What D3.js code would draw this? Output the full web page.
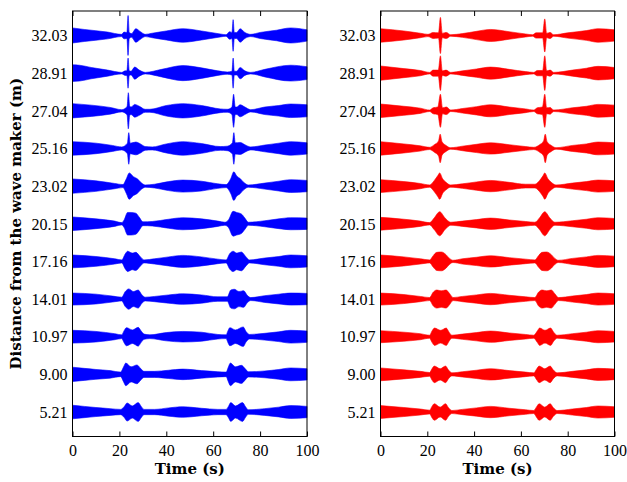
<!DOCTYPE html>
<html>
<head>
<meta charset="utf-8">
<script src="https://cdnjs.cloudflare.com/ajax/libs/d3/7.8.5/d3.min.js"></script>
<style>
body { margin: 0; background: #fff; }
</style>
</head>
<body>
<div id="chart"></div>
<script>
// gauge positions, bottom to top
var stations = ["5.21", "9.00", "10.97", "14.01", "17.16", "20.15", "23.02", "25.16", "27.04", "28.91", "32.03"];
var timeTicks = [0, 20, 40, 60, 80, 100];

// envelope of the measured signal: [time (s), half amplitude (trace spacing units)]
var measured = [
  [[0,.18],[5,.15],[10,.12],[16,.09],[20.5,.07],[22,.14],[23.3,.24],[25.5,.16],[28,.25],[29.3,.15],[30.5,.07],[35,.07],[41,.11],[47,.14],[55,.1],[62,.07],[65.5,.07],[66.5,.15],[67.5,.25],[69.5,.16],[72.5,.25],[73.8,.14],[75,.06],[82,.09],[88,.13],[93,.17],[100,.15]],
  [[0,.19],[5,.16],[10,.13],[16,.1],[20.5,.06],[21.8,.2],[22.7,.3],[25,.2],[27.5,.25],[29,.16],[30.5,.08],[35,.08],[41,.11],[47,.14],[55,.1],[62,.07],[65.5,.06],[66.5,.2],[67.3,.3],[69.5,.2],[72,.24],[73.5,.16],[75,.07],[82,.09],[88,.13],[93,.17],[100,.15]],
  [[0,.17],[10,.14],[18,.08],[21,.05],[22,.16],[23,.24],[25.6,.18],[28,.25],[29.3,.15],[30.5,.07],[33,.05],[40,.11],[47,.14],[55,.12],[62,.06],[65.5,.05],[66.3,.16],[67.1,.24],[69.5,.18],[72.8,.26],[74,.14],[75.5,.06],[82,.09],[88,.13],[93,.17],[100,.15]],
  [[0,.16],[10,.13],[17,.08],[21,.05],[22.5,.2],[24,.27],[26,.2],[28,.24],[29.5,.12],[31,.05],[35,.07],[41,.11],[47,.14],[55,.11],[62,.06],[66,.06],[67.5,.24],[69,.26],[71,.2],[73,.22],[74.5,.1],[76,.04],[82,.09],[88,.13],[93,.16],[100,.15]],
  [[0,.17],[10,.13],[18,.07],[21,.04],[22.5,.2],[23.5,.27],[25.5,.22],[27,.24],[29,.12],[30.5,.04],[35,.07],[41,.12],[47,.16],[55,.12],[62,.06],[65.5,.04],[67,.2],[68.5,.27],[70,.22],[72,.25],[74,.12],[75.5,.04],[82,.09],[88,.13],[93,.17],[100,.15]],
  [[0,.18],[10,.13],[18,.07],[21,.03],[22,.1],[23.5,.3],[25,.3],[27,.28],[28.5,.17],[30,.05],[34,.06],[41,.12],[47,.16],[55,.13],[62,.07],[65,.04],[66.5,.1],[68.5,.33],[70,.3],[72,.26],[73.5,.15],[75,.04],[82,.08],[88,.13],[93,.16],[100,.15]],
  [[0,.19],[10,.14],[18,.07],[21.5,.04],[23,.2],[24.2,.35],[26,.25],[27.5,.2],[29.5,.08],[31,.03],[35,.05],[41,.12],[47,.16],[55,.13],[62,.06],[65.5,.04],[67.5,.2],[68.8,.38],[70,.27],[71.5,.2],[73,.1],[75,.03],[82,.08],[88,.13],[93,.17],[100,.15]],
  [[0,.18],[10,.14],[17,.08],[21,.04],[23.4,.14],[24,.42],[24.6,.14],[27,.17],[29,.12],[31,.05],[34,.04],[40,.12],[47,.18],[55,.13],[63,.05],[66,.06],[68.2,.15],[68.8,.42],[69.4,.15],[71.5,.16],[73.5,.1],[76,.04],[82,.09],[88,.14],[93,.18],[100,.15]],
  [[0,.19],[8,.15],[16,.09],[21,.03],[22.8,.08],[23.3,.12],[23.8,.48],[24.4,.12],[25,.1],[26.5,.17],[28.5,.12],[31,.04],[33,.04],[40,.14],[47,.19],[55,.14],[63,.05],[66,.04],[68,.1],[68.7,.44],[69.4,.1],[70,.1],[71.5,.16],[73.5,.1],[76,.03],[82,.1],[88,.14],[93,.18],[100,.16]],
  [[0,.22],[3,.21],[8,.15],[15,.08],[21,.02],[22.5,.06],[23.2,.06],[23.7,.4],[24.2,.06],[25,.05],[26.5,.16],[28.5,.08],[31,.02],[38,.1],[47,.2],[55,.14],[62,.06],[66,.03],[68,.05],[68.5,.4],[69,.05],[70,.05],[71.5,.15],[73.5,.06],[76,.02],[82,.1],[93,.21],[100,.17]],
  [[0,.2],[5,.16],[15,.09],[20.9,.03],[22,.09],[23.2,.08],[23.7,.53],[24.2,.08],[25.2,.05],[27,.18],[29,.1],[31,.03],[34,.06],[40,.12],[47,.18],[55,.12],[63,.04],[65.5,.02],[67,.1],[68,.08],[68.5,.42],[69,.08],[70,.08],[71.5,.18],[73.5,.08],[76,.03],[80,.08],[87,.14],[93,.2],[100,.15]]
];

// envelope of the simulated signal
var simulated = [
  [[0,.17],[10,.12],[17,.08],[21,.05],[22,.15],[23,.22],[25.5,.13],[27.8,.22],[29,.12],[30.5,.04],[35,.07],[41,.11],[47,.15],[55,.1],[62,.06],[65.5,.04],[66.8,.15],[67.8,.22],[70.2,.13],[72.5,.22],[73.8,.12],[75.5,.04],[82,.08],[88,.12],[93,.16],[100,.14]],
  [[0,.17],[10,.12],[17,.08],[21,.05],[22,.15],[23,.22],[25.5,.15],[27.8,.22],[29,.12],[30.5,.04],[35,.07],[41,.11],[47,.15],[55,.1],[62,.06],[65.5,.04],[66.8,.15],[67.8,.22],[70.2,.15],[72.5,.22],[73.8,.12],[75.5,.04],[82,.08],[88,.12],[93,.16],[100,.14]],
  [[0,.16],[10,.12],[17,.08],[21,.04],[22,.15],[23.1,.23],[25.7,.17],[28.1,.23],[29.3,.12],[30.5,.04],[35,.07],[41,.11],[47,.15],[55,.1],[62,.06],[65.5,.04],[67,.15],[68,.23],[70.3,.17],[72.7,.23],[74,.12],[75.5,.04],[82,.08],[88,.12],[93,.16],[100,.14]],
  [[0,.16],[10,.12],[17,.07],[21,.04],[22.5,.18],[24,.24],[26,.22],[28,.24],[29.5,.15],[31,.04],[35,.07],[41,.11],[47,.15],[55,.1],[62,.06],[66,.04],[67.5,.18],[69,.24],[71,.22],[73,.24],[74.5,.14],[76,.04],[82,.08],[88,.12],[93,.16],[100,.14]],
  [[0,.17],[10,.12],[17,.07],[21,.04],[22.5,.15],[24,.24],[26,.25],[28,.18],[29.5,.08],[31,.03],[35,.07],[41,.11],[47,.15],[55,.1],[62,.06],[66,.04],[67.5,.15],[69,.24],[71,.25],[73,.18],[74.5,.08],[76,.03],[82,.08],[88,.12],[93,.16],[100,.14]],
  [[0,.17],[10,.12],[17,.07],[21,.03],[23,.16],[25.3,.32],[27.5,.16],[30,.04],[35,.07],[41,.11],[47,.15],[55,.1],[62,.06],[66,.04],[68,.16],[70.2,.32],[72.3,.16],[74.5,.04],[82,.08],[88,.12],[93,.16],[100,.14]],
  [[0,.17],[10,.12],[17,.07],[21,.03],[23,.15],[24.5,.28],[25.3,.35],[26.5,.2],[28,.1],[30,.03],[35,.06],[41,.11],[47,.15],[55,.1],[62,.05],[66,.05],[68,.15],[69.5,.28],[70.2,.35],[71.5,.2],[73,.1],[75,.03],[82,.08],[88,.12],[93,.16],[100,.14]],
  [[0,.18],[10,.12],[17,.07],[21,.03],[23,.1],[24.8,.2],[25.5,.38],[26.3,.18],[28,.08],[30,.02],[35,.06],[41,.11],[47,.15],[55,.1],[62,.05],[65.5,.03],[68,.1],[69.7,.2],[70.4,.38],[71.2,.18],[73,.08],[75,.02],[82,.08],[88,.12],[93,.17],[100,.15]],
  [[0,.18],[10,.12],[17,.07],[21,.02],[22.5,.08],[24.5,.1],[25.6,.44],[26.5,.08],[28.2,.1],[30,.02],[35,.06],[41,.11],[47,.16],[55,.1],[62,.05],[65.5,.02],[67,.08],[69.2,.1],[70.2,.44],[71,.08],[72.5,.09],[74,.02],[82,.08],[88,.12],[93,.17],[100,.15]],
  [[0,.19],[10,.12],[17,.07],[21,.02],[22.5,.08],[24.7,.08],[25.6,.46],[26.4,.06],[28,.08],[30,.02],[35,.06],[41,.11],[47,.16],[55,.1],[62,.04],[65.5,.02],[67,.07],[69.3,.07],[70.2,.46],[71,.06],[72.5,.08],[74,.02],[82,.08],[88,.13],[93,.18],[100,.15]],
  [[0,.18],[10,.12],[17,.06],[20.3,.03],[22.5,.08],[24.8,.07],[25.6,.48],[26.4,.06],[28.1,.08],[30,.02],[35,.05],[41,.11],[47,.16],[55,.1],[62,.04],[65,.02],[66.5,.07],[69.3,.07],[70.2,.44],[71,.06],[72.5,.08],[74,.02],[80,.07],[88,.13],[93,.18],[100,.15]]
];

var width = 627, height = 482;
var plotTop = 11, plotBottom = 436.5;
var tickFont = "'Liberation Serif', 'Times New Roman', serif";
var labelFont = "'DejaVu Serif', serif";

var panels = [
  { x0: 72.5, x1: 307, data: measured, color: "#0000ff" },
  { x0: 380.5, x1: 614.5, data: simulated, color: "#ff0000" }
];

var svg = d3.select("#chart").append("svg")
    .attr("width", width)
    .attr("height", height)
    .style("display", "block");

var y = d3.scaleLinear()
    .domain([-0.65, stations.length - 1 + 0.65])
    .range([plotBottom, plotTop]);

var idx = d3.range(stations.length);

panels.forEach(function(p) {
  var x = d3.scaleLinear().domain([0, 100]).range([p.x0, p.x1]);
  var g = svg.append("g");

  // y ticks (inside, drawn under the traces)
  var yLeft = g.append("g").attr("transform", "translate(" + p.x0 + ",0)")
    .call(d3.axisLeft(y).tickValues(idx).tickSize(-5).tickPadding(5)
      .tickFormat(function(i) { return stations[i]; }));
  var yRight = g.append("g").attr("transform", "translate(" + p.x1 + ",0)")
    .call(d3.axisRight(y).tickValues(idx).tickSize(-5).tickFormat(""));

  var xBottom = g.append("g").attr("transform", "translate(0," + plotBottom + ")")
    .call(d3.axisBottom(x).tickValues(timeTicks).tickSize(-5).tickPadding(8));
  var xTop = g.append("g").attr("transform", "translate(0," + plotTop + ")")
    .call(d3.axisTop(x).tickValues(timeTicks).tickSize(-5).tickFormat(""));

  [yLeft, yRight, xBottom, xTop].forEach(function(a) {
    a.select(".domain").remove();
    a.selectAll("line").attr("stroke", "#000");
    a.selectAll("text")
      .attr("fill", "#000")
      .style("font-family", tickFont)
      .style("font-size", "16px");
  });
  yLeft.selectAll("text").attr("dy", "0.33em");

  // traces
  p.data.forEach(function(env, i) {
    var area = d3.area()
      .x(function(d) { return x(d[0]); })
      .y0(function(d) { return y(i - d[1]); })
      .y1(function(d) { return y(i + d[1]); })
      .curve(d3.curveMonotoneX);
    g.append("path")
      .datum(env)
      .attr("d", area)
      .attr("fill", p.color)
      .attr("stroke", p.color)
      .attr("stroke-width", 0.6);
  });

  // frame
  g.append("rect")
    .attr("x", p.x0)
    .attr("y", plotTop)
    .attr("width", p.x1 - p.x0)
    .attr("height", plotBottom - plotTop)
    .attr("fill", "none")
    .attr("stroke", "#000")
    .attr("stroke-width", 1);

  g.append("text")
    .attr("x", (p.x0 + p.x1) / 2)
    .attr("y", 474)
    .attr("text-anchor", "middle")
    .style("font-family", labelFont)
    .style("font-weight", "bold")
    .style("font-size", "15px")
    .text("Time (s)");
});

svg.append("text")
  .attr("transform", "translate(21," + ((plotTop + plotBottom) / 2) + ") rotate(-90)")
  .attr("text-anchor", "middle")
  .style("font-family", labelFont)
  .style("font-weight", "bold")
  .style("font-size", "15px")
  .text("Distance from the wave maker (m)");
</script>
</body>
</html>
